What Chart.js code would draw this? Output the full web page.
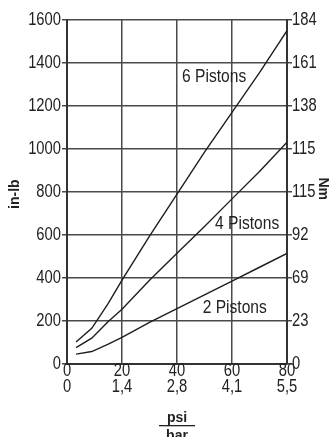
<!DOCTYPE html>
<html>
<head>
<meta charset="utf-8">
<script src="https://cdn.jsdelivr.net/npm/chart.js@4.4.1/dist/chart.umd.min.js"></script>
<style>
  html, body { margin: 0; padding: 0; background: #fff; }
  #wrap { width: 336px; height: 437px; }
</style>
</head>
<body>
<div id="wrap"><canvas id="myChart"></canvas></div>
<script>
// data
const psiPoints = [3.3, 9, 15, 20, 30, 40, 50, 60, 70, 80];
const sixPistons = [102, 166, 282, 390, 595, 790, 985, 1170, 1355, 1550];
const fourPistons = [76, 120, 198, 255, 390, 515, 640, 768, 895, 1032];
const twoPistons = [46, 58, 92, 124, 194, 258, 322, 386, 450, 514];

// tick labels
const psiTicks = [0, 20, 40, 60, 80];
const barTicks = ['0', '1,4', '2,8', '4,1', '5,5'];
const nmTicks = ['0', '23', '69', '92', '115', '115', '138', '161', '184'];

const FONT = "'Liberation Sans', Arial, sans-serif";
const LINE = '#1e1e1e';
const GRID = '#4a4a4a';
const NARROW = 0.82; // fake the condensed face of the original

function toPoints(ys) {
  return ys.map((y, i) => ({ x: psiPoints[i], y: y }));
}

function series(label, ys) {
  return {
    label: label,
    data: toPoints(ys),
    borderColor: LINE,
    borderWidth: 1.4,
    pointRadius: 0,
    tension: 0,
    fill: false
  };
}

function narrowText(ctx, text, x, y, align) {
  ctx.save();
  ctx.translate(x, y);
  ctx.scale(NARROW, 1);
  ctx.textAlign = align;
  ctx.fillText(text, 0, 0);
  ctx.restore();
}

// tick labels, curve labels and axis titles
const labelsPlugin = {
  id: 'labels',
  afterDraw(chart) {
    const ctx = chart.ctx;
    const xs = chart.scales.x, ys = chart.scales.y, ys2 = chart.scales.y2;
    const area = chart.chartArea;
    ctx.save();
    ctx.fillStyle = '#222';
    ctx.textBaseline = 'middle';

    ctx.font = '18px ' + FONT;
    ys.ticks.forEach(t => {
      narrowText(ctx, String(t.value), area.left - 6, ys.getPixelForValue(t.value), 'right');
    });
    ys2.ticks.forEach((t, i) => {
      narrowText(ctx, nmTicks[i], area.right + 5, ys2.getPixelForValue(t.value), 'left');
    });
    psiTicks.forEach((v, i) => {
      const px = xs.getPixelForValue(v);
      narrowText(ctx, String(v), px, area.bottom + 7.5, 'center');
      narrowText(ctx, barTicks[i], px, area.bottom + 23, 'center');
    });

    ctx.font = '19px ' + FONT;
    [['6 Pistons', 53.5, 1335], ['4 Pistons', 65.5, 651], ['2 Pistons', 61, 260]].forEach(l => {
      narrowText(ctx, l[0], xs.getPixelForValue(l[1]), ys.getPixelForValue(l[2]), 'center');
    });

    ctx.font = 'bold 14px ' + FONT;
    ctx.textAlign = 'center';
    // in-lb
    ctx.save();
    ctx.translate(15, ys.getPixelForValue(790));
    ctx.rotate(-Math.PI / 2);
    ctx.fillText('in-lb', 0, 0);
    ctx.restore();
    // Nm
    ctx.save();
    ctx.translate(323, ys.getPixelForValue(815));
    ctx.rotate(Math.PI / 2);
    ctx.fillText('Nm', 0, 0);
    ctx.restore();
    // psi / bar
    const cx = (area.left + area.right) / 2;
    ctx.fillText('psi', cx, 418);
    ctx.fillRect(cx - 18, 425, 36, 1.3);
    ctx.fillText('bar', cx, 436);
    ctx.restore();
  }
};

new Chart(document.getElementById('myChart').getContext('2d'), {
  type: 'line',
  data: {
    datasets: [
      series('6 Pistons', sixPistons),
      series('4 Pistons', fourPistons),
      series('2 Pistons', twoPistons)
    ]
  },
  options: {
    responsive: true,
    maintainAspectRatio: false,
    animation: false,
    layout: { padding: { top: 20, left: 0, right: 0, bottom: 0 } },
    plugins: {
      legend: { display: false },
      tooltip: { enabled: false }
    },
    scales: {
      x: {
        type: 'linear',
        min: 0,
        max: 80,
        afterFit(scale) { scale.height = 73; },
        afterBuildTicks(scale) {
          scale.ticks = psiTicks.map(v => ({ value: v }));
        },
        grid: { color: GRID, lineWidth: 1.5, drawTicks: false },
        border: { color: '#333', width: 2 },
        ticks: { display: false }
      },
      y: {
        position: 'left',
        min: 0,
        max: 1600,
        afterFit(scale) { scale.width = 67; },
        grid: { color: GRID, lineWidth: 1.5, tickLength: 5 },
        border: { color: '#333', width: 2 },
        ticks: { stepSize: 200, display: false }
      },
      y2: {
        position: 'right',
        min: 0,
        max: 1600,
        afterFit(scale) { scale.width = 49; },
        grid: { drawOnChartArea: false, color: GRID, lineWidth: 1.5, tickLength: 5 },
        border: { color: '#333', width: 2 },
        ticks: { stepSize: 200, display: false }
      }
    }
  },
  plugins: [labelsPlugin]
});
</script>
</body>
</html>
